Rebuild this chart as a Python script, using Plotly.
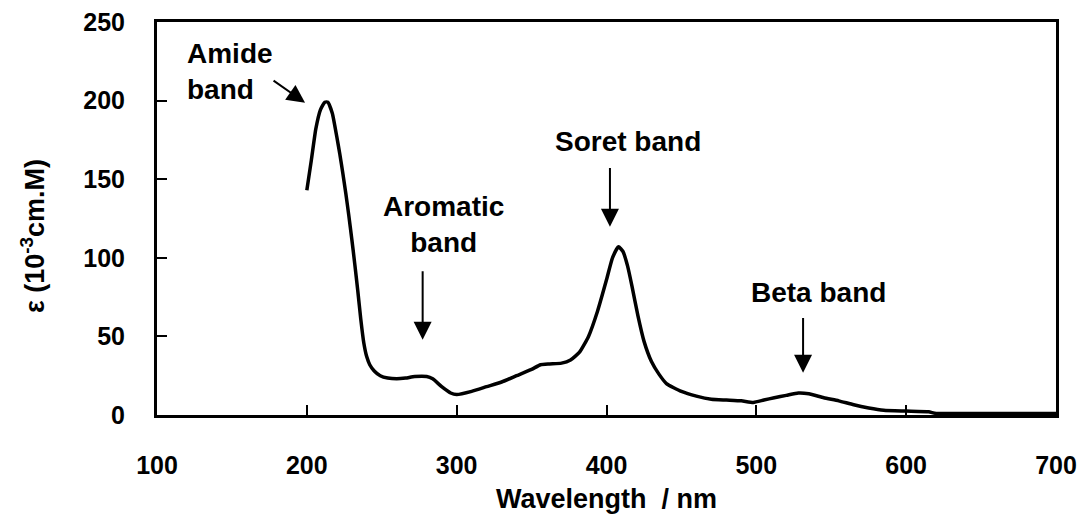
import plotly.graph_objects as go

wavelength = [200, 203, 206, 209, 212, 214, 217, 220, 222, 224, 226, 228, 230, 232, 234, 236, 238, 240, 242, 245,
              249, 254, 260, 266, 272, 280, 284, 290, 296, 300, 310, 320, 330, 340, 350, 356, 362, 370, 376, 382,
              388, 394, 400, 404, 408, 411, 414, 417, 421, 425, 430, 435, 440, 450, 460, 470, 480, 490, 498, 505,
              512, 520, 528, 535, 545, 555, 565, 575, 585, 600, 615, 620, 650, 700]
epsilon = [143, 162, 182, 194, 199, 199, 192, 177, 166, 154, 141, 127, 112, 96, 79, 61, 46, 37, 32, 28,
           25, 23.5, 23, 23.5, 24.5, 24.5, 23, 18, 14, 13, 15, 18, 21, 25, 29, 32, 32.5, 33, 35, 40,
           50, 66, 86, 100, 107, 104, 95, 82, 63, 47, 34, 26, 20, 15, 12, 10, 9.5, 9, 8, 9.5,
           11, 12.5, 14, 13.5, 11, 9, 6.5, 4.5, 3, 2.5, 2, 1, 1, 1]

x_ticks = [100, 200, 300, 400, 500, 600, 700]
y_ticks = [0, 50, 100, 150, 200, 250]

FONT = "Liberation Sans, Arial, sans-serif"

fig = go.Figure()
fig.add_trace(go.Scatter(x=wavelength, y=epsilon, mode="lines",
                         line=dict(color="black", width=3.5, shape="spline", smoothing=0.5),
                         showlegend=False, hoverinfo="skip"))

axis_common = dict(showgrid=False, zeroline=False, showline=True, linecolor="black", linewidth=3,
                   mirror=True, ticks="inside", tickcolor="black", tickwidth=1.5, ticklen=10,
                   tickfont=dict(family=FONT, size=25, color="black"))

fig.update_xaxes(range=[100, 700], tickvals=x_ticks, ticktext=[f"<b>{v}</b>" for v in x_ticks],
                 ticklabelstandoff=26, **axis_common)
fig.update_yaxes(range=[0, 250], tickvals=y_ticks, ticktext=[f"<b>{v}</b>" for v in y_ticks],
                 ticklabelstandoff=24, **axis_common)

ann_font = dict(family=FONT, size=28, color="black")

# axis titles
fig.add_annotation(text="<b>Wavelength  / nm</b>", xref="paper", yref="paper", x=0.5, y=-0.215,
                   showarrow=False, font=dict(family=FONT, size=27, color="black"), yanchor="middle")
fig.add_annotation(text="<b>ε (10<sup>-3</sup>cm.M)</b>", xref="paper", yref="paper", x=-0.138, y=0.455,
                   textangle=-90, showarrow=False, font=dict(family=FONT, size=27, color="black"),
                   xanchor="center", yanchor="middle")

# band labels
fig.add_annotation(text="<b>Amide<br>band</b>", x=118.7, y=218.8, xanchor="left", yanchor="middle",
                   showarrow=False, font=ann_font, align="left")
fig.add_annotation(x=198.8, y=198.7, ax=176.8, ay=213.4, axref="x", ayref="y", text="",
                   showarrow=True, arrowhead=2, arrowsize=1.8, arrowwidth=2, arrowcolor="black")

fig.add_annotation(text="<b>Aromatic<br>band</b>", x=290.9, y=121, showarrow=False, font=ann_font,
                   align="center")
fig.add_annotation(x=277.3, y=47.8, ax=277.3, ay=92.4, axref="x", ayref="y", text="",
                   showarrow=True, arrowhead=2, arrowsize=1.8, arrowwidth=2, arrowcolor="black")

fig.add_annotation(text="<b>Soret band</b>", x=414.3, y=173.9, showarrow=False, font=ann_font)
fig.add_annotation(x=402.3, y=119.7, ax=402.3, ay=158, axref="x", ayref="y", text="",
                   showarrow=True, arrowhead=2, arrowsize=1.8, arrowwidth=2, arrowcolor="black")

fig.add_annotation(text="<b>Beta band</b>", x=541.2, y=77.7, showarrow=False, font=ann_font)
fig.add_annotation(x=531.2, y=26.8, ax=531.2, ay=62.6, axref="x", ayref="y", text="",
                   showarrow=True, arrowhead=2, arrowsize=1.8, arrowwidth=2, arrowcolor="black")

fig.update_layout(width=1083, height=529, margin=dict(l=157, r=27, t=22, b=114, autoexpand=False),
                  plot_bgcolor="white", paper_bgcolor="white",
                  font=dict(family=FONT, color="black"))

fig.write_html("out.html")
